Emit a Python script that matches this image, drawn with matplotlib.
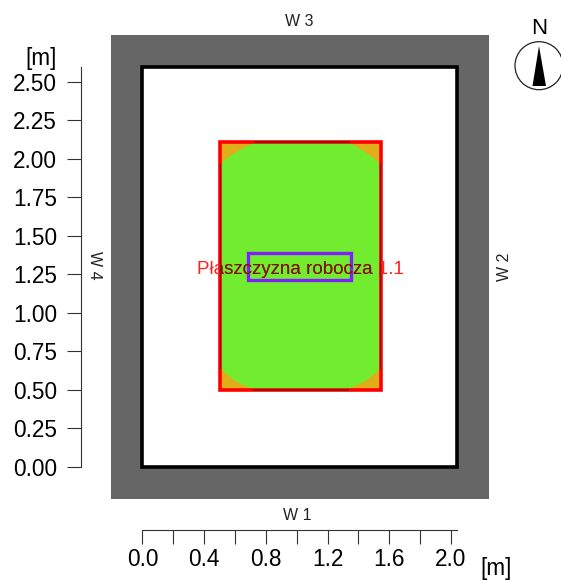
import numpy as np
import matplotlib
matplotlib.use('Agg')
import matplotlib.pyplot as plt
from matplotlib.patches import Rectangle, Polygon, Circle

plt.rcParams['font.family'] = ['Liberation Sans', 'DejaVu Sans']

# room and working plane, metres
room_w, room_h = 2.04, 2.6
wall = 0.205
plane_x = [0.50, 1.545]
plane_y = [0.50, 2.11]
task_x = [0.685, 1.355]
task_y = [1.215, 1.39]
# outline of the green zone (illuminance contour)
zone_x = [0.50, 0.60, 0.72, 1.33, 1.45, 1.545, 1.545, 1.45, 1.34, 0.73, 0.60, 0.50]
zone_y = [0.64, 0.56, 0.50, 0.50, 0.56, 0.64, 1.97, 2.04, 2.11, 2.11, 2.04, 1.97]
x_ticks = np.arange(0, 2.01, 0.2)
x_labels = ['0.0', '', '0.4', '', '0.8', '', '1.2', '', '1.6', '', '2.0']
y_ticks = np.arange(0, 2.51, 0.25)
wall_labels = ['W 1', 'W 2', 'W 3', 'W 4']

W, H = 561, 580
fig = plt.figure(figsize=(W / 100, H / 100), dpi=100)

# axes box = the room interior, pixel limits
left, right, top, bottom = 142.4, 457.2, 66.5, 467.0
ax = fig.add_axes([left / W, 1 - bottom / H, (right - left) / W, (bottom - top) / H])
ax.set_xlim(0, room_w)
ax.set_ylim(0, room_h)
ax.patch.set_visible(False)

ax.add_patch(Rectangle((-wall, -wall), room_w + 2 * wall, room_h + 2 * wall, fc='#666666', ec='none', clip_on=False, zorder=0))
ax.add_patch(Rectangle((0, 0), room_w, room_h, fc='white', ec='black', lw=2.6, clip_on=False, zorder=1))

plane = Rectangle((plane_x[0], plane_y[0]), plane_x[1] - plane_x[0], plane_y[1] - plane_y[0], fc='#E2AD1A', ec='none', zorder=2)
ax.add_patch(plane)
ax.add_patch(Polygon(np.column_stack([zone_x, zone_y]), fc='#72EC2E', ec='none', zorder=3))
ax.add_patch(Rectangle((plane_x[0], plane_y[0]), plane_x[1] - plane_x[0], plane_y[1] - plane_y[0], fc='none', ec='#FF0000', lw=2.6, zorder=4))
# where the zone touches the border, the red shows darker
dark_red = '#8A1000'
ax.plot([zone_x[2], zone_x[3]], [plane_y[0], plane_y[0]], color=dark_red, lw=1.2, zorder=5)
ax.plot([zone_x[9], zone_x[8]], [plane_y[1], plane_y[1]], color=dark_red, lw=1.2, zorder=5)
ax.plot([plane_x[0] + 0.004, plane_x[0] + 0.004], [zone_y[0], zone_y[-1]], color=dark_red, lw=0.8, zorder=5)
ax.plot([plane_x[1] - 0.004, plane_x[1] - 0.004], [zone_y[5], zone_y[6]], color=dark_red, lw=0.8, zorder=5)

ax.add_patch(Rectangle((task_x[0], task_y[0]), task_x[1] - task_x[0], task_y[1] - task_y[0], fc='none', ec='#7F1FFF', lw=2.4, zorder=6))

# red text turns dark over the plane: Agg clips text to rectangles only
label_kw = dict(ha='center', va='center', fontsize=13.5)
cx, cy = 1.022, 1.28
ax.text(cx, cy, 'Płaszczyzna robocza 1.1', color='#FF2020', zorder=7, **label_kw)
dark = ax.text(cx, cy, 'Płaszczyzna robocza 1.1', color='#6B1A00', zorder=8, clip_on=True, **label_kw)
dark.set_clip_path(plane)

# axes offset from the room
ax.spines[['top', 'right']].set_visible(False)
ax.spines['left'].set_position(('outward', 61.7 * 0.72))
ax.spines['bottom'].set_position(('outward', 62.5 * 0.72))
ax.spines['left'].set_bounds(0, room_h)
ax.spines['bottom'].set_bounds(0, room_w)
ax.spines['left'].set_color('#333333')
ax.spines['bottom'].set_color('#333333')
ax.set_xticks(x_ticks, x_labels)
ax.set_yticks(y_ticks, [f'{v:.2f}' for v in y_ticks])
ax.tick_params(axis='both', length=10, width=0.8, color='#333333', labelsize=16.3)
ax.tick_params(axis='x', pad=3)
ax.tick_params(axis='y', pad=7)

# overlay in pixel units for free-standing labels and the compass
ov = fig.add_axes([0, 0, 1, 1])
ov.set_xlim(0, W)
ov.set_ylim(H, 0)
ov.axis('off')
ov.text(297, 515, wall_labels[0], ha='center', va='center', fontsize=11.5, color='#222222')
ov.text(505, 267, wall_labels[1], ha='center', va='center', fontsize=11.5, color='#222222', rotation=90)
ov.text(299, 21, wall_labels[2], ha='center', va='center', fontsize=11.5, color='#222222')
ov.text(95, 265, wall_labels[3], ha='center', va='center', fontsize=11.5, color='#222222', rotation=270)
ov.text(57, 58, '[m]', ha='right', va='center', fontsize=16.3)
ov.text(496, 569, '[m]', ha='center', va='center', fontsize=16.3)

ov.add_patch(Circle((539, 65.7), 24, fc='none', ec='#222222', lw=0.9))
ov.add_patch(Polygon([(539, 46), (532.5, 86), (546, 86)], fc='black', ec='none'))
ov.text(539, 28, 'N', ha='center', va='center', fontsize=16)

fig.savefig('out.png', dpi=100)
